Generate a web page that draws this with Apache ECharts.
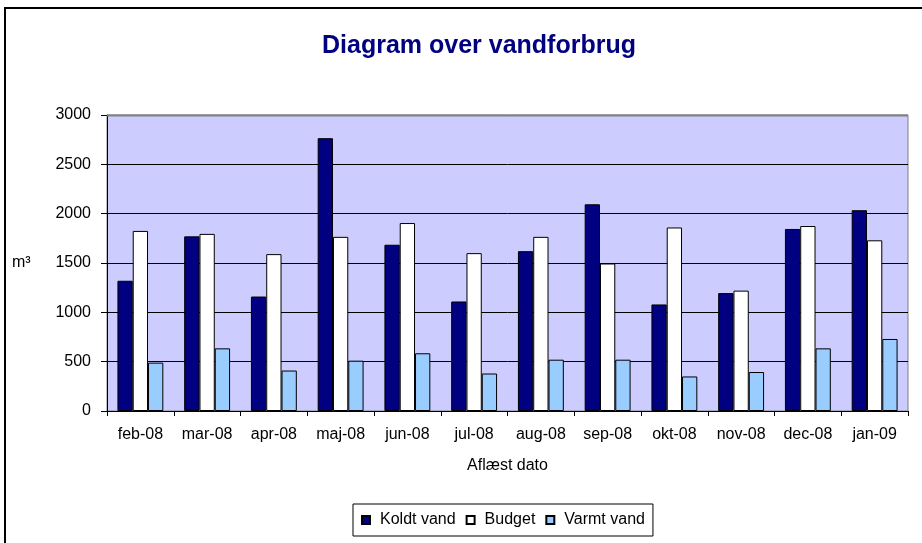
<!DOCTYPE html>
<html>
<head>
<meta charset="utf-8">
<script src="https://cdn.jsdelivr.net/npm/echarts@6/dist/echarts.min.js"></script>
<style>
  html, body { margin: 0; padding: 0; background: #fff; }
  #chart { width: 922px; height: 543px; }
</style>
</head>
<body>
<div id="chart"></div>
<script>
// data
var months = ['feb-08','mar-08','apr-08','maj-08','jun-08','jul-08','aug-08','sep-08','okt-08','nov-08','dec-08','jan-09'];
var koldtVand = [1320, 1770, 1160, 2765, 1685, 1110, 1620, 2095, 1080, 1195, 1845, 2035];
var budget    = [1825, 1795, 1590, 1765, 1905, 1600, 1765, 1495, 1860, 1220, 1875, 1730];
var varmtVand = [490, 635, 410, 510, 585, 380, 520, 520, 350, 395, 635, 730];

var chart = echarts.init(document.getElementById('chart'));

var font = 'Arial, "Liberation Sans", sans-serif';

var option = {
    backgroundColor: '#fff',
    animation: false,
    textStyle: { fontFamily: font },
    title: {
        text: 'Diagram over vandforbrug',
        left: 474,
        textAlign: 'center',
        top: 29,
        textStyle: { color: '#000080', fontSize: 25, fontWeight: 'bold', fontFamily: font }
    },
    legend: {
        left: 353,
        top: 504,
        itemWidth: 8,
        itemHeight: 8,
        itemGap: 10,
        padding: [8, 8],
        borderColor: '#000',
        borderWidth: 1,
        backgroundColor: '#fff',
        icon: 'rect',
        textStyle: { color: '#000', fontSize: 16, fontFamily: font, padding: [0, 0, 0, 5] },
        data: ['Koldt vand', 'Budget', 'Varmt vand']
    },
    grid: {
        left: 107,
        right: 14,
        top: 115,
        bottom: 132,
        show: true,
        backgroundColor: '#CCCCFF',
        borderColor: '#808080',
        borderWidth: 1
    },
    xAxis: {
        type: 'category',
        data: months,
        name: 'Aflæst dato',
        nameLocation: 'middle',
        nameGap: 47,
        nameTextStyle: { color: '#000', fontSize: 16, fontFamily: font },
        axisLine: { lineStyle: { color: '#000', width: 1 } },
        axisTick: { show: true, length: 5, lineStyle: { color: '#000' } },
        axisLabel: { color: '#000', fontSize: 16, margin: 16, fontFamily: font }
    },
    yAxis: {
        type: 'value',
        min: 0,
        max: 3000,
        interval: 500,
        axisLine: { show: true, lineStyle: { color: '#000', width: 1 } },
        axisTick: { show: true, length: 6, lineStyle: { color: '#000' } },
        axisLabel: {
            color: '#000', fontSize: 16, margin: 16, fontFamily: font,
            formatter: function (v) { return String(v); }
        },
        splitLine: { show: true, lineStyle: { color: '#000', width: 1 } }
    },
    graphic: [
        {
            type: 'rect',
            shape: { x: 5, y: 8, width: 940, height: 560 },
            style: { fill: 'none', stroke: '#000', lineWidth: 2 },
            silent: true
        },
        {
            type: 'line',
            shape: { x1: 107, y1: 115.5, x2: 908, y2: 115.5 },
            style: { stroke: '#808080', lineWidth: 2 },
            z: 50,
            silent: true
        },
        {
            type: 'text',
            left: 12,
            top: 255,
            style: { text: 'm³', fill: '#000', font: '16px ' + font }
        }
    ],
    series: [
        {
            name: 'Koldt vand',
            type: 'bar',
            barWidth: 15.3,
            barGap: '0%',
            itemStyle: { color: '#000080', borderColor: '#000', borderWidth: 1 },
            data: koldtVand
        },
        {
            name: 'Budget',
            type: 'bar',
            barWidth: 15.3,
            barGap: '0%',
            itemStyle: { color: '#FFFFFF', borderColor: '#000', borderWidth: 1 },
            data: budget
        },
        {
            name: 'Varmt vand',
            type: 'bar',
            barWidth: 15.3,
            barGap: '0%',
            itemStyle: { color: '#99CCFF', borderColor: '#000', borderWidth: 1 },
            data: varmtVand
        }
    ]
};

chart.setOption(option);
</script>
</body>
</html>
